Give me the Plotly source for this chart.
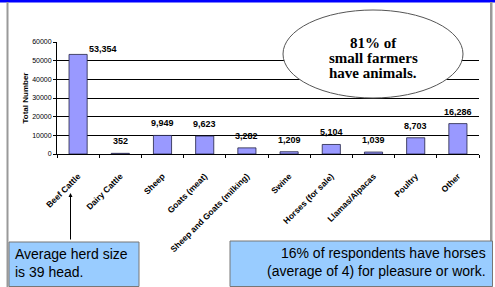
import plotly.graph_objects as go

categories = ["Beef Cattle", "Dairy Cattle", "Sheep", "Goats (meat)",
              "Sheep and Goats (milking)", "Swine", "Horses (for sale)",
              "Llamas/Alpacas", "Poultry", "Other"]
values = [53354, 352, 9949, 9623, 3282, 1209, 5104, 1039, 8703, 16286]
value_labels = ["53,354", "352", "9,949", "9,623", "3,282", "1,209",
                "5,104", "1,039", "8,703", "16,286"]
y_ticks = [0, 10000, 20000, 30000, 40000, 50000, 60000]
callout_lines = ["81% of", "small farmers", "have animals."]

W, H = 495, 287
L, R, T, B = 57, 16, 42, 133
PW, PH = W - L - R, H - T - B


def px(x):
    return (x - L) / PW


def py(y):
    return (H - B - y) / PH


fig = go.Figure()
fig.add_trace(go.Bar(
    x=categories, y=values, width=0.43,
    marker=dict(color="#9999FF", line=dict(color="#222244", width=0.8)),
    showlegend=False, hoverinfo="skip",
))

annotations = []
for i, (c, v, t) in enumerate(zip(categories, values, value_labels)):
    annotations.append(dict(
        x=c, y=v, xref="x", yref="y", text=t, showarrow=False,
        yanchor="bottom", yshift=(-2 if i == 0 else 5), xshift=(25 if i == 0 else 0),
        font=dict(family="Liberation Sans", size=9, color="black", weight="bold"),
    ))

for k, line in enumerate(callout_lines):
    annotations.append(dict(
        x=px(373), y=py(43 + 15 * k), xref="paper", yref="paper", showarrow=False,
        xanchor="center", yanchor="middle", text=line,
        font=dict(family="Liberation Serif", size=15, color="black", weight="bold"),
    ))
annotations.append(dict(
    x=px(13), y=py(263), xref="paper", yref="paper", showarrow=False,
    xanchor="left", yanchor="middle", align="left",
    text="Average herd size<br>is 39 head.",
    font=dict(family="Liberation Sans", size=14, color="black"),
))
annotations.append(dict(
    x=px(488), y=py(262), xref="paper", yref="paper", showarrow=False,
    xanchor="right", yanchor="middle", align="right",
    text="16% of respondents have horses<br>(average of 4) for pleasure or work.",
    font=dict(family="Liberation Sans", size=14, color="black"),
))
annotations.append(dict(
    x=px(70.5), y=py(193), xref="paper", yref="paper", text="",
    showarrow=True, ax=0, ay=48, arrowhead=2, arrowsize=0.8,
    arrowwidth=1, arrowcolor="black",
))

shapes = [
    dict(type="rect", xref="paper", yref="paper", x0=px(0), x1=px(W), y0=py(0), y1=py(2.5),
         fillcolor="#0000FF", line=dict(width=0), layer="above"),
    dict(type="rect", xref="paper", yref="paper", x0=px(6.5), x1=px(8.5), y0=py(2), y1=py(H),
         fillcolor="#999999", line=dict(width=0), layer="above"),
    dict(type="rect", xref="paper", yref="paper", x0=px(490), x1=px(492.5), y0=py(2), y1=py(H),
         fillcolor="#999999", line=dict(width=0), layer="above"),
    dict(type="circle", xref="paper", yref="paper", x0=px(283), x1=px(463), y0=py(10), y1=py(98),
         fillcolor="white", line=dict(color="#555555", width=1), layer="above"),
    dict(type="rect", xref="paper", yref="paper", x0=px(9), x1=px(139), y0=py(242), y1=py(286.5),
         fillcolor="#99CCFF", line=dict(color="#777777", width=1), layer="above"),
    dict(type="rect", xref="paper", yref="paper", x0=px(230), x1=px(492.5), y0=py(241), y1=py(286.5),
         fillcolor="#99CCFF", line=dict(color="#777777", width=1), layer="above"),
]

fig.update_layout(
    width=W, height=H,
    margin=dict(l=L, r=R, t=T, b=B, autoexpand=False),
    paper_bgcolor="white", plot_bgcolor="white",
    bargap=0.57,
    annotations=annotations,
    shapes=shapes,
    font=dict(family="Liberation Sans", color="black"),
    hovermode=False,
)
fig.update_xaxes(
    automargin=False,
    tickangle=-45, tickson="boundaries", ticks="outside", ticklen=3,
    tickcolor="black", showline=True, linecolor="black", linewidth=1,
    ticklabelstandoff=13,
    tickfont=dict(family="Liberation Sans", size=8.5, weight="bold", color="black"),
    showgrid=False,
)
fig.update_yaxes(
    automargin=False,
    range=[0, 60000], tickvals=y_ticks, ticktext=[str(v) for v in y_ticks],
    ticks="outside", ticklen=3, tickcolor="black",
    showline=True, linecolor="black", linewidth=1,
    showgrid=True, gridcolor="black", gridwidth=1,
    tickfont=dict(family="Liberation Sans", size=7, color="black"),
    title=dict(text="Total Number", standoff=2,
               font=dict(family="Liberation Sans", size=8, weight="bold", color="black")),
    zeroline=False,
)

fig.write_html(
    "out.html",
    config={"displayModeBar": False, "staticPlot": True},
    post_script="document.body.style.margin='0';document.body.style.overflow='hidden';",
)
